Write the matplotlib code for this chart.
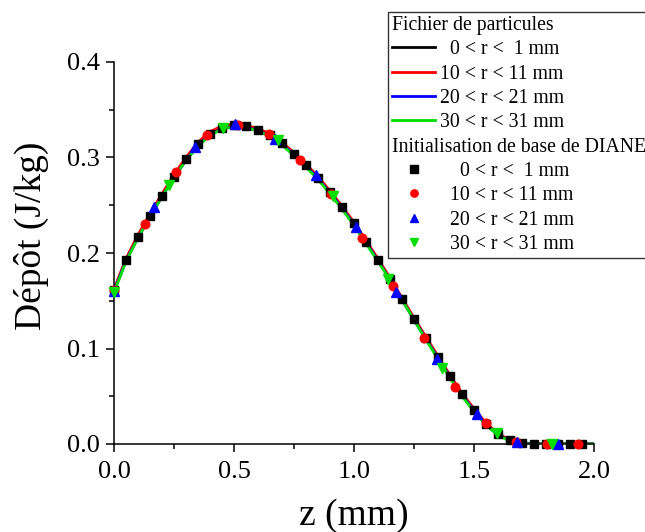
import matplotlib
matplotlib.use('Agg')
import matplotlib.pyplot as plt
from matplotlib.lines import Line2D
from matplotlib.ticker import MultipleLocator

plt.rcParams['font.family'] = 'Liberation Serif'

# profils continus (fichier de particules)
z_line = [0.00, 0.05, 0.10, 0.15, 0.20, 0.25, 0.30, 0.35, 0.40, 0.45,
          0.50, 0.55, 0.60, 0.65, 0.70, 0.75, 0.80, 0.85, 0.90, 0.95,
          1.00, 1.05, 1.10, 1.15, 1.20, 1.25, 1.30, 1.35, 1.40, 1.45,
          1.50, 1.55, 1.60, 1.65, 1.70, 1.75, 1.80, 1.85, 1.90, 1.95, 2.00]
dep_r0 = [0.161, 0.193, 0.217, 0.239, 0.260, 0.280, 0.298, 0.314, 0.325, 0.331,
          0.334, 0.333, 0.329, 0.324, 0.315, 0.304, 0.292, 0.279, 0.264, 0.248,
          0.231, 0.212, 0.193, 0.173, 0.152, 0.131, 0.111, 0.091, 0.071, 0.052,
          0.036, 0.021, 0.010, 0.004, 0.001, 0.000, 0.000, 0.000, 0.000, 0.000, 0.000]
dep_r10 = [0.162, 0.194, 0.219, 0.241, 0.262, 0.282, 0.300, 0.316, 0.327, 0.333,
           0.335, 0.334, 0.330, 0.325, 0.316, 0.305, 0.293, 0.280, 0.265, 0.249,
           0.232, 0.213, 0.194, 0.174, 0.153, 0.132, 0.112, 0.092, 0.072, 0.053,
           0.037, 0.022, 0.011, 0.004, 0.001, 0.000, 0.000, 0.000, 0.000, 0.000, 0.000]
dep_r20 = [0.160, 0.192, 0.216, 0.238, 0.259, 0.279, 0.297, 0.313, 0.324, 0.330,
           0.333, 0.332, 0.328, 0.323, 0.314, 0.303, 0.291, 0.278, 0.263, 0.247,
           0.230, 0.211, 0.192, 0.172, 0.151, 0.130, 0.110, 0.090, 0.070, 0.051,
           0.035, 0.020, 0.010, 0.003, 0.001, 0.000, 0.000, 0.000, 0.000, 0.000, 0.000]
dep_r30 = [0.159, 0.191, 0.216, 0.238, 0.259, 0.279, 0.297, 0.312, 0.323, 0.330,
           0.332, 0.331, 0.328, 0.322, 0.313, 0.302, 0.290, 0.277, 0.262, 0.246,
           0.229, 0.210, 0.191, 0.172, 0.151, 0.130, 0.109, 0.089, 0.069, 0.050,
           0.034, 0.020, 0.009, 0.003, 0.000, 0.000, 0.000, 0.000, 0.000, 0.000, 0.000]

# points (initialisation de base de DIANE)
z_pts0 = z_line[:-1]
pts_r0 = dep_r0[:-1]
z_pts10 = [0.0, 0.129, 0.258, 0.387, 0.516, 0.645, 0.774, 0.903,
           1.032, 1.161, 1.29, 1.419, 1.548, 1.677, 1.806, 1.935]
pts_r10 = [0.161, 0.230, 0.285, 0.324, 0.334, 0.325, 0.297, 0.262,
           0.216, 0.165, 0.111, 0.060, 0.022, 0.002, 0.0, 0.0]
z_pts20 = [0.0, 0.168, 0.336, 0.504, 0.672, 0.84, 1.008, 1.176,
           1.344, 1.512, 1.68, 1.848]
pts_r20 = [0.160, 0.248, 0.311, 0.335, 0.319, 0.282, 0.227, 0.159,
           0.089, 0.031, 0.002, 0.0]
z_pts30 = [0.0, 0.228, 0.456, 0.684, 0.912, 1.14, 1.368, 1.596, 1.824]
pts_r30 = [0.159, 0.271, 0.331, 0.318, 0.260, 0.173, 0.080, 0.011, 0.0]

line_labels = ['  0 < r <  1 mm', '10 < r < 11 mm', '20 < r < 21 mm', '30 < r < 31 mm']
pts_labels = ['    0 < r <  1 mm', '  10 < r < 11 mm', '  20 < r < 21 mm', '  30 < r < 31 mm']
colors = ['black', '#ff0000', '#0000ff', '#00dd00']

fig = plt.figure(figsize=(6.45, 5.32), dpi=100)
ax = fig.add_axes([114 / 645, 1 - 444 / 532, 480 / 645, 382 / 532])

lines = []
for vals, c in zip([dep_r0, dep_r10, dep_r20, dep_r30], colors):
    l, = ax.plot(z_line, vals, color=c, lw=2.0, zorder=2)
    lines.append(l)

m0, = ax.plot(z_pts0, pts_r0, 's', color=colors[0], ms=6.2, ls='none', zorder=3, clip_on=False)
m1, = ax.plot(z_pts10, pts_r10, 'o', color=colors[1], ms=6.2, ls='none', zorder=3, clip_on=False)
m2, = ax.plot(z_pts20, pts_r20, '^', color=colors[2], ms=6.7, ls='none', zorder=3, clip_on=False)
m3, = ax.plot(z_pts30, pts_r30, 'v', color=colors[3], ms=6.7, ls='none', zorder=3, clip_on=False)

ax.set_xlim(0, 2.0)
ax.set_ylim(0, 0.4)
ax.xaxis.set_major_locator(MultipleLocator(0.5))
ax.xaxis.set_minor_locator(MultipleLocator(0.25))
ax.yaxis.set_major_locator(MultipleLocator(0.1))
ax.yaxis.set_minor_locator(MultipleLocator(0.05))
ax.xaxis.set_major_formatter(plt.FormatStrFormatter('%.1f'))
ax.yaxis.set_major_formatter(plt.FormatStrFormatter('%.1f'))
ax.spines['top'].set_visible(False)
ax.spines['right'].set_visible(False)
for s in ['left', 'bottom']:
    ax.spines[s].set_linewidth(1.1)
ax.tick_params(which='major', direction='out', length=6, width=1.1, labelsize=19, pad=4)
ax.tick_params(which='minor', direction='out', length=3.5, width=1.1)
ax.tick_params(axis='x', which='major', pad=6)

ax.set_xlabel('z (mm)', fontsize=27, labelpad=11)
ax.set_ylabel('Dépôt (J/kg)', fontsize=27)
ax.yaxis.set_label_coords(-0.136, 0.545)

blank = Line2D([], [], ls='none')
handles = [blank] + lines + [blank] + [m0, m1, m2, m3]
labels = ['Fichier de particules'] + line_labels + ['Initialisation de base de DIANE'] + pts_labels

fs = 14.2
hl, htp = 2.2, 0.25
leg = fig.legend(handles, labels, loc='upper left',
                 bbox_to_anchor=(388 / 645, 1 - 12 / 532), bbox_transform=fig.transFigure,
                 fontsize=fs, handlelength=hl, handletextpad=htp, labelspacing=0.27,
                 borderpad=0.2, borderaxespad=0, fancybox=False, framealpha=1,
                 edgecolor='#333333', markerscale=0.85, numpoints=1)
leg.get_frame().set_linewidth(1.0)
shift = (hl + htp) * fs * fig.dpi / 72
for i in (0, 5):
    leg.get_texts()[i].set_position((-shift, 0))

fig.savefig('out.png', dpi=100)
